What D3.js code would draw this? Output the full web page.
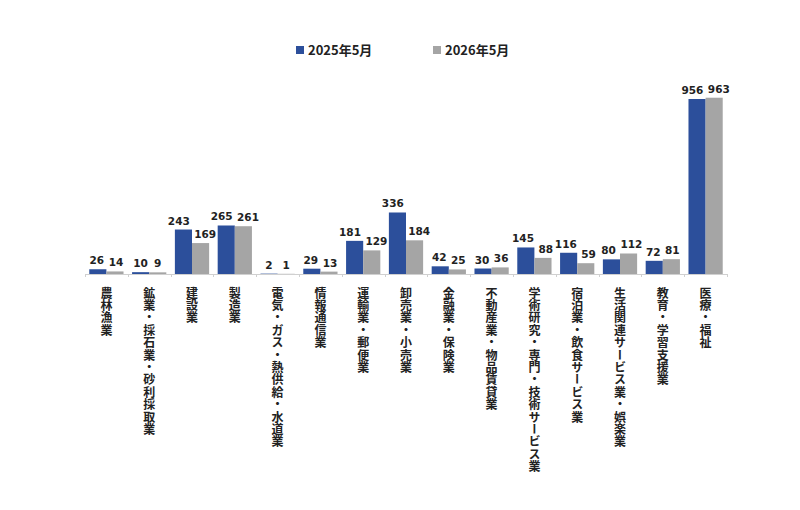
<!DOCTYPE html>
<html><head><meta charset="utf-8">
<script src="https://cdn.jsdelivr.net/npm/d3@7"></script>
<style>
body{margin:0;background:#fff;}
svg{display:block;}
</style></head>
<body>
<svg id="chart" width="800" height="510"></svg>
<script>
const categories = ["農林漁業","鉱業・採石業・砂利採取業","建設業","製造業","電気・ガス・熱供給・水道業","情報通信業","運輸業・郵便業","卸売業・小売業","金融業・保険業","不動産業・物品賃貸業","学術研究・専門・技術サービス業","宿泊業・飲食サービス業","生活関連サービス業・娯楽業","教育・学習支援業","医療・福祉"];
const seriesNames = ["2025年5月","2026年5月"];
const values2025 = [26,10,243,265,2,29,181,336,42,30,145,116,80,72,956];
const values2026 = [14,9,169,261,1,13,129,184,25,36,88,59,112,81,963];
const colors = ["#2C4F9B","#A5A5A5"];

const svg = d3.select("#chart");
const left = 85, right = 727, baseY = 274, topY = 99;

const x = d3.scaleBand().domain(categories).range([left, right]).paddingInner(0.2).paddingOuter(0.1);
const xs = d3.scaleBand().domain([0,1]).range([0, x.bandwidth()]);
const y = d3.scaleLinear().domain([0, 956]).range([baseY, topY]);

const data = categories.map((c,i)=>({cat:c, vals:[values2025[i], values2026[i]]}));

// axis line + boundary ticks
svg.append("line").attr("x1",left).attr("x2",right).attr("y1",baseY+0.5).attr("y2",baseY+0.5)
  .attr("stroke","#d0d0d0").attr("stroke-width",1);
const step = (right-left)/categories.length;
d3.range(categories.length+1).forEach(i=>{
  const tx = Math.round(left + i*step)+0.5;
  svg.append("line").attr("x1",tx).attr("x2",tx).attr("y1",baseY).attr("y2",baseY+3).attr("stroke","#d0d0d0");
});

const g = svg.selectAll("g.grp").data(data).enter().append("g").attr("class","grp")
  .attr("transform",d=>`translate(${x(d.cat)},0)`);

g.selectAll("rect").data(d=>d.vals.map((v,k)=>({v,k}))).enter().append("rect")
  .attr("x",d=>xs(d.k)).attr("width",xs.bandwidth())
  .attr("y",d=>y(d.v)).attr("height",d=>baseY-y(d.v))
  .attr("fill",d=>colors[d.k]);

g.each(function(d){
  const grp = d3.select(this);
  const labels = d.vals.map((v,k)=>grp.append("text")
    .attr("class","val")
    .attr("x",xs(k)+xs.bandwidth()/2)
    .attr("y",y(v)-5)
    .attr("text-anchor","middle")
    .attr("font-family","DejaVu Sans, Verdana, sans-serif")
    .attr("font-weight","bold").attr("font-size","10.5px").attr("fill","#222")
    .text(v));
  const w0 = labels[0].node().getComputedTextLength();
  const w1 = labels[1].node().getComputedTextLength();
  const c0 = xs(0)+xs.bandwidth()/2, c1 = xs(1)+xs.bandwidth()/2;
  const o = (c0 + w0/2 + 4.5) - (c1 - w1/2);
  if (o > 0) {
    labels[0].attr("x", c0 - o/2);
    labels[1].attr("x", c1 + o/2);
  }
});

// category labels, vertical writing
svg.selectAll("text.cat").data(categories).enter().append("text")
  .attr("class","cat")
  .attr("x",d=>x(d)+x.bandwidth()/2)
  .attr("y",287)
  .attr("style","writing-mode: vertical-rl; text-orientation: upright; letter-spacing: 0.4px;")
  .attr("font-family","'Noto Sans CJK JP', sans-serif")
  .attr("font-weight","bold").attr("font-size","12px").attr("fill","#222")
  .text(d=>d);

// legend
const legendX = [296, 433];
seriesNames.forEach((n,i)=>{
  svg.append("rect").attr("x",legendX[i]).attr("y",46).attr("width",8).attr("height",8).attr("fill",colors[i]);
  svg.append("text").attr("x",legendX[i]+12).attr("y",55)
    .attr("font-family","'Noto Sans CJK JP', sans-serif").attr("font-weight","bold")
    .attr("font-size","13px").attr("fill","#222").text(n);
});
</script>
</body></html>
